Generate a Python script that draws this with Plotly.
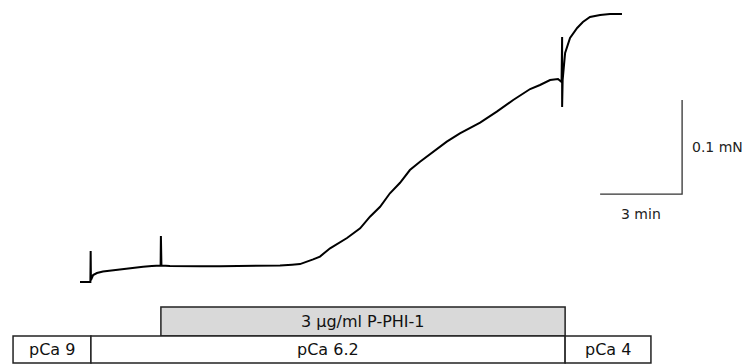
import plotly.graph_objects as go

# Force trace: time (min) and force (mN) relative to start
time_min = [0.00, 0.38, 0.39, 0.40, 0.48, 0.62, 0.84, 1.10, 1.46, 1.83, 2.31, 2.63, 2.95,
            2.96, 2.98, 3.29, 3.84, 4.39, 5.12, 5.85, 6.59, 7.32, 7.76, 8.05, 8.53, 8.78,
            9.15, 9.77, 10.25, 10.61, 10.98, 11.34, 11.71, 12.07, 12.44, 12.93, 13.42,
            13.90, 14.64, 15.25, 15.85, 16.47, 16.83, 17.20, 17.49, 17.62, 17.64, 17.64,
            17.66, 17.75, 17.93, 18.19, 18.40, 18.66, 19.03, 19.39, 19.83]
force_mN = [0.0000, 0.0000, 0.0330, 0.0020, 0.0074, 0.0096, 0.0112, 0.0122, 0.0138, 0.0149,
            0.0163, 0.0170, 0.0176, 0.0489, 0.0176, 0.0170, 0.0165, 0.0167, 0.0168, 0.0170,
            0.0173, 0.0176, 0.0184, 0.0191, 0.0241, 0.0271, 0.0359, 0.0468, 0.0571, 0.0695,
            0.0801, 0.0944, 0.1056, 0.1191, 0.1280, 0.1386, 0.1493, 0.1582, 0.1695, 0.1812,
            0.1936, 0.2053, 0.2096, 0.2149, 0.2160, 0.2128, 0.2606, 0.1862, 0.2150, 0.2436,
            0.2596, 0.2702, 0.2766, 0.2819, 0.2840, 0.2851, 0.2851]

# Solution conditions (min)
pca_edges = [-2.45, 0.40, 17.75, 20.89]
pca_labels = ["pCa 9", "pCa 6.2", "pCa 4"]
drug_span = [2.96, 17.75]
drug_label = "3 \u00b5g/ml P-PHI-1"

# Scale bars
scale_time_min = 3
scale_force_mN = 0.1
scale_end_t = 22.03
scale_base_F = 0.0936

FONT = "DejaVu Sans"

fig = go.Figure()
fig.add_trace(go.Scatter(x=time_min, y=force_mN, mode="lines",
                         line=dict(color="black", width=2), hoverinfo="skip"))

# scale bars
fig.add_trace(go.Scatter(
    x=[scale_end_t - scale_time_min, scale_end_t, scale_end_t],
    y=[scale_base_F, scale_base_F, scale_base_F + scale_force_mN],
    mode="lines", line=dict(color="#333", width=1.3), hoverinfo="skip"))
fig.add_annotation(x=scale_end_t - scale_time_min / 2, y=scale_base_F - 0.021,
                   text=f"{scale_time_min} min", showarrow=False,
                   font=dict(family=FONT, size=14, color="#222"))
fig.add_annotation(x=scale_end_t + 0.30, y=scale_base_F + scale_force_mN / 2,
                   text=f"{scale_force_mN} mN", showarrow=False, xanchor="left",
                   font=dict(family=FONT, size=14, color="#222"))

# condition boxes
row_top, row_mid, row_bot = -0.0266, -0.0574, -0.0862
fig.add_shape(type="rect", x0=drug_span[0], x1=drug_span[1], y0=row_mid, y1=row_top,
              fillcolor="#d9d9d9", line=dict(color="#222", width=1.5), layer="below")
fig.add_annotation(x=sum(drug_span) / 2, y=(row_top + row_mid) / 2, text=drug_label,
                   showarrow=False, font=dict(family=FONT, size=16, color="#111"))
for i, lab in enumerate(pca_labels):
    x0, x1 = pca_edges[i], pca_edges[i + 1]
    fig.add_shape(type="rect", x0=x0, x1=x1, y0=row_bot, y1=row_mid,
                  fillcolor="white", line=dict(color="#222", width=1.5))
    fig.add_annotation(x=(x0 + x1) / 2, y=(row_mid + row_bot) / 2, text=lab,
                       showarrow=False, font=dict(family=FONT, size=16, color="#111"))

fig.update_layout(
    width=746, height=364, margin=dict(l=0, r=0, t=0, b=0),
    paper_bgcolor="white", plot_bgcolor="white", showlegend=False,
    xaxis=dict(range=[-2.927, 24.368], visible=False, fixedrange=True),
    yaxis=dict(range=[-0.0872, 0.30], visible=False, fixedrange=True),
)
fig.write_html("out.html", config={"displayModeBar": False},
               post_script="document.body.style.margin='0';document.body.style.overflow='hidden';")
